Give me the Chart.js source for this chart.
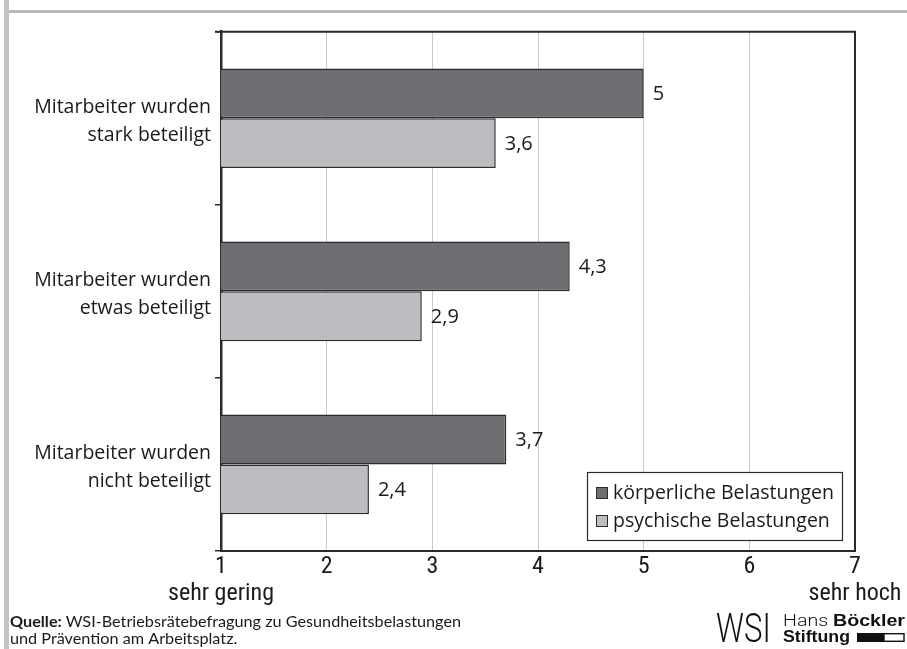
<!DOCTYPE html>
<html>
<head>
<meta charset="utf-8">
<script src="https://cdn.jsdelivr.net/npm/chart.js@4/dist/chart.umd.min.js"></script>
<style>
  html, body { margin: 0; padding: 0; background: #fff; }
  #wrap { width: 907px; height: 649px; position: relative; }
</style>
</head>
<body>
<div id="wrap"><canvas id="c" width="907" height="649"></canvas></div>
<script>
// Categories (two-line labels) and the two series, rated on a 1–7 scale
const categories = [
  ["Mitarbeiter wurden", "stark beteiligt"],
  ["Mitarbeiter wurden", "etwas beteiligt"],
  ["Mitarbeiter wurden", "nicht beteiligt"]
];
const seriesNames = ["körperliche Belastungen", "psychische Belastungen"];
const koerperlich = [5, 4.3, 3.7];
const psychisch = [3.6, 2.9, 2.4];
const xTicks = [1, 2, 3, 4, 5, 6, 7];
const scaleEnds = { 1: "sehr gering", 7: "sehr hoch" };
const sourceLabel = "Quelle:";
const sourceLines = ["WSI-Betriebsrätebefragung zu Gesundheitsbelastungen", "und Prävention am Arbeitsplatz."];

const HUMAN = '"Open Sans", "DejaVu Sans", sans-serif';
const NARROW = '"Liberation Sans Narrow", "Roboto Condensed", "Liberation Sans", sans-serif';
const SRC = 'Lato, "Open Sans", sans-serif';
const HELV = '"Liberation Sans", Arial, sans-serif';
const INK = '#1a1a1a';
const DARK = '#6d6e71';
const LIGHT = '#bcbdc0';
const EDGE = '#2b2b2b';

const fmt = v => String(v).replace('.', ',');

// Draw a run of [text, font] pieces squeezed/stretched to a given overall width
function fitRuns(ctx, runs, x, y, width) {
  let total = 0;
  runs.forEach(r => { ctx.font = r[1]; total += ctx.measureText(r[0]).width; });
  const k = width / total;
  ctx.save();
  ctx.translate(x, y);
  ctx.scale(k, 1);
  let cx = 0;
  runs.forEach(r => { ctx.font = r[1]; ctx.fillText(r[0], cx, 0); cx += ctx.measureText(r[0]).width; });
  ctx.restore();
  return k;
}

// Value labels to the right of each bar
const valueLabels = {
  id: 'valueLabels',
  afterDatasetsDraw(chart) {
    const ctx = chart.ctx;
    ctx.save();
    ctx.font = '20px ' + HUMAN;
    ctx.fillStyle = INK;
    ctx.textBaseline = 'middle';
    ctx.textAlign = 'left';
    chart.data.datasets.forEach((ds, i) => {
      chart.getDatasetMeta(i).data.forEach((bar, j) => {
        ctx.fillText(fmt(ds.data[j]), bar.x + 9, bar.y + 1);
      });
    });
    ctx.restore();
  }
};

// Frame (top/right), legend box inside the plot, page furniture
const decorations = {
  id: 'decorations',
  afterDraw(chart) {
    const ctx = chart.ctx;
    const a = chart.chartArea;
    ctx.save();

    // top and right border of the plot
    ctx.strokeStyle = EDGE;
    ctx.lineWidth = 2;
    ctx.beginPath();
    ctx.moveTo(a.left - 6, a.top);
    ctx.lineTo(a.right, a.top);
    ctx.lineTo(a.right, a.bottom);
    ctx.stroke();

    // legend
    const lx = a.right - 268, ly = a.bottom - 79, lw = 255, lh = 68;
    ctx.fillStyle = '#fff';
    ctx.fillRect(lx, ly, lw, lh);
    ctx.strokeStyle = EDGE;
    ctx.lineWidth = 1.2;
    ctx.strokeRect(lx + 0.5, ly + 0.5, lw, lh);
    ctx.textBaseline = 'middle';
    ctx.textAlign = 'left';
    chart.data.datasets.forEach((ds, i) => {
      const cy = ly + 21 + i * 28;
      ctx.fillStyle = ds.backgroundColor;
      ctx.fillRect(lx + 9, cy - 6, 12, 12);
      ctx.strokeStyle = EDGE;
      ctx.lineWidth = 1;
      ctx.strokeRect(lx + 9.5, cy - 5.5, 11, 11);
      ctx.fillStyle = INK;
      ctx.font = '19.5px ' + HUMAN;
      ctx.fillText(ds.label, lx + 26, cy);
    });

    // grey page rules
    ctx.fillStyle = '#c4c4c4';
    ctx.fillRect(4, 0, 5, 649);
    ctx.fillStyle = '#b9b9b9';
    ctx.fillRect(9, 10, 898, 3);

    // source note
    ctx.fillStyle = INK;
    ctx.textBaseline = 'alphabetic';
    const k = fitRuns(ctx, [[sourceLabel + ' ', 'bold 15px ' + SRC], [sourceLines[0], '15px ' + SRC]], 10, 627, 451);
    ctx.save();
    ctx.translate(10, 644);
    ctx.scale(k, 1);
    ctx.font = '15px ' + SRC;
    ctx.fillText(sourceLines[1], 0, 0);
    ctx.restore();

    // WSI / Hans-Böckler-Stiftung marks
    ctx.save();
    ctx.translate(716, 642);
    ctx.scale(0.76, 1);
    ctx.font = '300 41px Roboto, ' + HELV;
    ctx.fillStyle = '#111';
    ctx.fillText('WSI', 0, 0);
    ctx.restore();

    ctx.fillStyle = '#111';
    fitRuns(ctx, [['Hans ', '300 16.5px Roboto, ' + HELV], ['Böckler', 'bold 16.5px ' + HELV]], 783, 626, 122);
    fitRuns(ctx, [['Stiftung', 'bold 16.5px ' + HELV]], 783, 642, 67);
    ctx.fillRect(857, 633, 27, 9);
    ctx.strokeStyle = '#111';
    ctx.lineWidth = 1.4;
    ctx.strokeRect(884, 633.7, 20, 7.6);

    ctx.restore();
  }
};

new Chart(document.getElementById('c'), {
  type: 'bar',
  data: {
    labels: categories,
    datasets: [
      { label: seriesNames[0], data: koerperlich, backgroundColor: DARK, borderColor: EDGE, borderWidth: 1.5,
        categoryPercentage: 0.576, barPercentage: 1.0 },
      { label: seriesNames[1], data: psychisch, backgroundColor: LIGHT, borderColor: EDGE, borderWidth: 1.5,
        categoryPercentage: 0.576, barPercentage: 1.0 }
    ]
  },
  options: {
    indexAxis: 'y',
    responsive: false,
    animation: false,
    devicePixelRatio: 1,
    layout: { padding: { top: 30, right: 52, left: 0, bottom: 0 } },
    plugins: { legend: { display: false }, tooltip: { enabled: false } },
    scales: {
      x: {
        type: 'linear',
        min: 1, max: 7,
        afterBuildTicks: s => { s.ticks = xTicks.map(v => ({ value: v })); },
        afterFit: s => { s.height = 98; },
        ticks: {
          callback: v => scaleEnds[v] ? [String(v), scaleEnds[v]] : String(v),
          font: { family: NARROW, size: 24, lineHeight: 1.1 },
          color: INK, padding: 3, maxRotation: 0, autoSkip: false
        },
        grid: { color: '#c9c9c9', lineWidth: 1, drawTicks: false },
        border: { display: true, color: EDGE, width: 2 }
      },
      y: {
        afterFit: s => { s.width = 221; },
        ticks: { font: { family: HUMAN, size: 19.5, lineHeight: 1.42 }, color: INK, padding: 4, labelOffset: 3 },
        grid: { drawOnChartArea: false, tickLength: 6, color: EDGE, lineWidth: 1.5 },
        border: { display: true, color: EDGE, width: 2.5 }
      }
    }
  },
  plugins: [valueLabels, decorations]
});
</script>
</body>
</html>
